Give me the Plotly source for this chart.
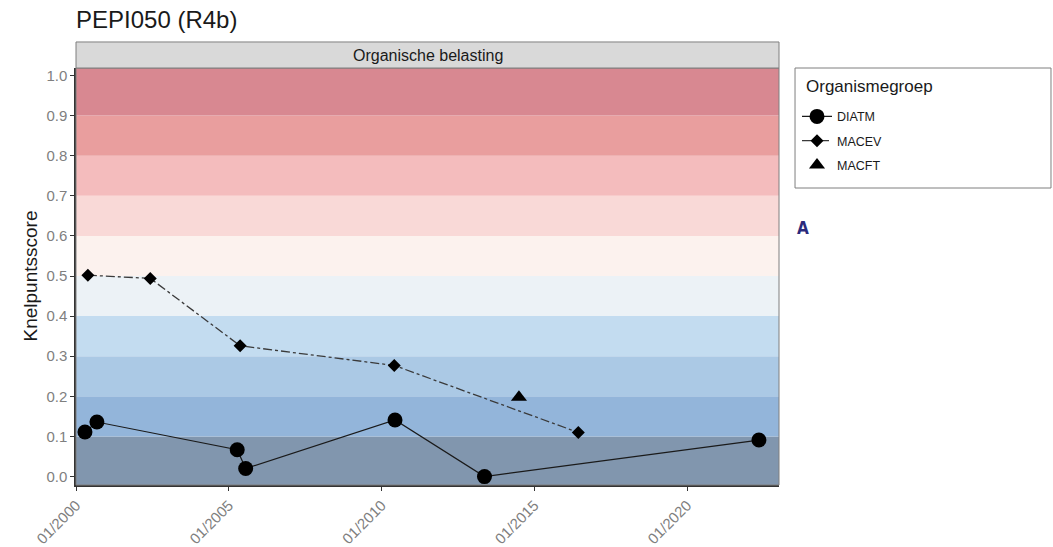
import plotly.graph_objects as go

# ---- data ----
diatm_dates = ["2000-04-15", "2000-09-05", "2005-04-10", "2005-07-20", "2010-06-10", "2013-05-15", "2022-05-10"]
diatm_scores = [0.111, 0.136, 0.067, 0.020, 0.141, 0.000, 0.091]

macev_dates = ["2000-05-20", "2002-06-05", "2005-05-15", "2010-06-01", "2016-06-10"]
macev_scores = [0.502, 0.494, 0.326, 0.277, 0.110]

macft_dates = ["2014-07-01"]
macft_scores = [0.198]

band_edges = [-0.05, 0.1, 0.2, 0.3, 0.4, 0.5, 0.6, 0.7, 0.8, 0.9, 1.1]
band_colors = ["#8196ae", "#93b5da", "#abc9e5", "#c3dcf0", "#ecf2f6",
               "#fcf2ee", "#f9d9d7", "#f4bcbd", "#e99e9e", "#d88891"]

y_ticks = [0.0, 0.1, 0.2, 0.3, 0.4, 0.5, 0.6, 0.7, 0.8, 0.9, 1.0]
y_ticklabels = ["0.0", "0.1", "0.2", "0.3", "0.4", "0.5", "0.6", "0.7", "0.8", "0.9", "1.0"]

title_text = "PEPI050 (R4b)"
strip_text = "Organische belasting"
y_title = "Knelpuntsscore"
legend_title = "Organismegroep"
panel_label = "A"

FONT = "Liberation Sans, Arial, sans-serif"
Y_RANGE = [-0.021, 1.0185]

W, H = 1053, 547

fig = go.Figure()

fig.add_trace(go.Scatter(
    x=diatm_dates, y=diatm_scores, name="DIATM", mode="lines+markers",
    line=dict(color="#1a1a1a", width=1.2),
    marker=dict(symbol="circle", size=15, color="black"),
    legendgroup="a"))
fig.add_trace(go.Scatter(
    x=macev_dates, y=macev_scores, name="MACEV", mode="lines+markers",
    line=dict(color="#3a3a3a", width=1.3, dash="dashdot"),
    marker=dict(symbol="diamond", size=10, color="black"),
    legendgroup="b"))
fig.add_trace(go.Scatter(
    x=macft_dates, y=macft_scores, name="MACFT", mode="markers",
    marker=dict(symbol="triangle-up", size=14, color="black"),
    legendgroup="c"))

shapes = []
for i, col in enumerate(band_colors):
    y0 = max(band_edges[i], Y_RANGE[0])
    y1 = min(band_edges[i + 1], Y_RANGE[1])
    shapes.append(dict(type="rect", xref="paper", yref="y", x0=0, x1=1,
                       y0=y0, y1=y1, fillcolor=col, line=dict(width=0),
                       layer="below"))
# panel border
shapes.append(dict(type="rect", xref="paper", yref="paper", x0=0, x1=1, y0=0, y1=1,
                   line=dict(color="#7f7f7f", width=1), fillcolor="rgba(0,0,0,0)"))
# strip
shapes.append(dict(type="rect", xref="paper", yref="paper", x0=0, x1=1,
                   y0=1.0, y1=1.0624, fillcolor="#d9d9d9",
                   line=dict(color="#7f7f7f", width=1)))
# legend box
shapes.append(dict(type="rect", xref="paper", yref="paper", x0=1.0228, x1=1.3869,
                   y0=0.7122, y1=1.0, fillcolor="white",
                   line=dict(color="#7f7f7f", width=1)))

annotations = [
    dict(text=strip_text, xref="paper", yref="paper", x=0.5, y=1.031,
         showarrow=False, font=dict(family=FONT, size=16, color="#1a1a1a"),
         xanchor="center", yanchor="middle"),
    dict(text=y_title, xref="paper", yref="paper", x=-0.0654, y=0.5,
         showarrow=False, textangle=-90,
         font=dict(family=FONT, size=19, color="#1a1a1a"),
         xanchor="center", yanchor="middle"),
    dict(text=legend_title, xref="paper", yref="paper", x=1.0356, y=0.955,
         showarrow=False, font=dict(family=FONT, size=17, color="#1a1a1a"),
         xanchor="left", yanchor="middle"),
    dict(text="<b>" + panel_label + "</b>", xref="paper", yref="paper", x=1.0228, y=0.6175,
         showarrow=False,
         font=dict(family="DejaVu Sans Condensed, Liberation Sans Narrow, sans-serif",
                   size=17, color="#2b2a7c"),
         xanchor="left", yanchor="middle"),
]

fig.update_layout(
    width=W, height=H,
    margin=dict(l=76, r=W - 779, t=68, b=H - 485, pad=0),
    paper_bgcolor="white", plot_bgcolor="white",
    font=dict(family=FONT),
    title=dict(text=title_text, x=76 / W, xanchor="left", xref="container",
               y=1 - 19.5 / H, yanchor="middle", yref="container",
               font=dict(family=FONT, size=24, color="#1a1a1a")),
    shapes=shapes,
    annotations=annotations,
    showlegend=True,
    legend=dict(
        font=dict(family=FONT, size=12.5, color="#1a1a1a"),
        x=1.0256, xanchor="left", y=0.919, yanchor="top",
        bgcolor="rgba(0,0,0,0)", borderwidth=0,
        tracegroupgap=5, itemwidth=30,
    ),
    xaxis=dict(
        type="date", range=["1999-12-30", "2023-01-05"],
        tick0="2000-01-01", dtick="M60", tickformat="%m/%Y",
        tickangle=-45, ticks="outside", ticklen=4, tickcolor="#333333",
        tickfont=dict(family=FONT, size=15, color="#7f7f7f"),
        showgrid=False, zeroline=False, automargin=False,
        showline=True, linecolor="#333333", linewidth=1.5,
    ),
    yaxis=dict(
        range=Y_RANGE, tickvals=y_ticks, ticktext=y_ticklabels,
        ticks="outside", ticklen=4, tickcolor="#333333",
        tickfont=dict(family=FONT, size=15, color="#7f7f7f"),
        showgrid=False, zeroline=False, automargin=False,
        showline=True, linecolor="#333333", linewidth=1.5,
    ),
)

# remove the default 8px page margin so the figure fills the window exactly
fig.write_html("out.html", config={"displayModeBar": False},
               post_script="document.body.style.margin='0';")
